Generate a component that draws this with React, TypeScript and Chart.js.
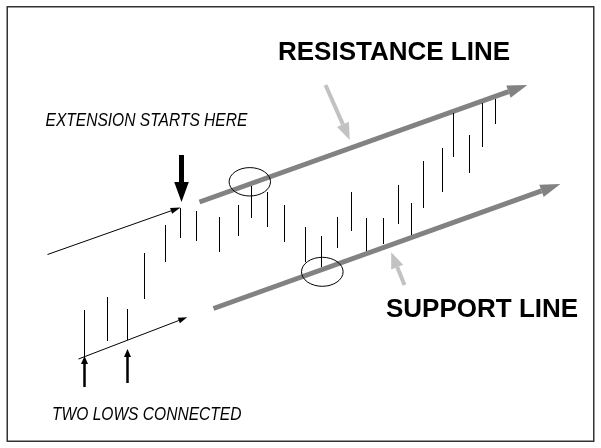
import React, { useEffect, useRef } from "react";
import { Chart, registerables } from "chart.js";

Chart.register(...registerables);

// Price bars: day position, high and low price
const barDays = [84, 107, 127, 144, 165, 180, 196, 219, 238, 251, 267, 284, 305, 321, 337, 351, 366, 383, 398, 411, 423, 442, 453, 469, 482, 495];
const barHighs = [138, 151, 139, 195, 223, 240, 237, 231, 243, 262, 256, 243, 221, 212, 231, 256, 230, 230, 263, 245, 287, 300, 335, 313, 345, 349];
const barLows = [91, 107, 108, 149, 186, 210, 207, 196, 212, 230, 221, 206, 186, 181, 200, 217, 197, 204, 224, 213, 240, 256, 291, 275, 301, 324];

// Trend lines (start point, end of shaft) in day/price units
const resistanceLine = [{ x: 199, y: 246 }, { x: 508, y: 356.3 }];
const supportLine = [{ x: 213, y: 139.5 }, { x: 541, y: 257.2 }];
const extensionLine = [{ x: 47, y: 193.5 }, { x: 170.6, y: 237.2 }];
const lowsLine = [{ x: 78, y: 89 }, { x: 178.3, y: 127.5 }];

// Pointer arrows
const downPointer = [{ x: 181, y: 293 }, { x: 181, y: 266 }];
const upPointer1 = [{ x: 84, y: 61 }, { x: 84, y: 84 }];
const upPointer2 = [{ x: 127, y: 65 }, { x: 127, y: 91 }];
const resistancePointer = [{ x: 325, y: 363 }, { x: 342.4, y: 323.6 }];
const supportPointer = [{ x: 404, y: 163 }, { x: 396.7, y: 180.9 }];

// Circled touch points: center x, center y, radius x, radius y
const ellipses = [
  [249.3, 266.2, 20.7, 14.2],
  [321.8, 176.2, 20.8, 14.5],
];

// Labels: text, x, y, style
const labels = [
  { text: "RESISTANCE LINE", x: 277.5, y: 388.5, bold: true },
  { text: "SUPPORT LINE", x: 385.5, y: 131.3, bold: true },
  { text: "EXTENSION STARTS HERE", x: 45, y: 322, bold: false },
  { text: "TWO LOWS CONNECTED", x: 51.5, y: 28, bold: false },
];

const DARK = "#828282";
const LIGHT = "#c2c2c2";

const arrowPlugin = {
  id: "arrowHeads",
  afterDatasetsDraw(chart: any) {
    const ctx = chart.ctx;
    chart.data.datasets.forEach((ds: any, i: number) => {
      if (!ds.arrow) return;
      const pts = chart.getDatasetMeta(i).data;
      if (pts.length < 2) return;
      const a = pts[pts.length - 2];
      const b = pts[pts.length - 1];
      const dx = b.x - a.x;
      const dy = b.y - a.y;
      const len = Math.hypot(dx, dy) || 1;
      const ux = dx / len;
      const uy = dy / len;
      const { length, halfWidth } = ds.arrow;
      const tx = b.x + ux * length;
      const ty = b.y + uy * length;
      ctx.save();
      ctx.fillStyle = ds.borderColor;
      ctx.beginPath();
      ctx.moveTo(tx, ty);
      ctx.lineTo(b.x - uy * halfWidth, b.y + ux * halfWidth);
      ctx.lineTo(b.x + uy * halfWidth, b.y - ux * halfWidth);
      ctx.closePath();
      ctx.fill();
      ctx.restore();
    });
  },
};

const decorPlugin = {
  id: "decor",
  beforeDraw(chart: any) {
    const ctx = chart.ctx;
    ctx.save();
    ctx.fillStyle = "#ffffff";
    ctx.fillRect(0, 0, chart.width, chart.height);
    ctx.restore();
  },
  afterDraw(chart: any) {
    const ctx = chart.ctx;
    const xs = chart.scales.x;
    const ys = chart.scales.y;
    ctx.save();
    // frame
    ctx.strokeStyle = "#333333";
    ctx.lineWidth = 1.5;
    ctx.strokeRect(7.25, 6.75, 586.5, 434.5);
    // ellipses
    ctx.strokeStyle = "#000000";
    ctx.lineWidth = 1;
    ellipses.forEach(([cx, cy, rx, ry]) => {
      const px = xs.getPixelForValue(cx);
      const py = ys.getPixelForValue(cy);
      const prx = Math.abs(xs.getPixelForValue(cx + rx) - px);
      const pry = Math.abs(ys.getPixelForValue(cy + ry) - py);
      ctx.beginPath();
      ctx.ellipse(px, py, prx, pry, 0, 0, Math.PI * 2);
      ctx.stroke();
    });
    // labels
    ctx.fillStyle = "#000000";
    ctx.textBaseline = "alphabetic";
    ctx.textAlign = "left";
    labels.forEach((l) => {
      const px = xs.getPixelForValue(l.x);
      const py = ys.getPixelForValue(l.y);
      ctx.save();
      ctx.translate(px, py);
      if (l.bold) {
        ctx.font = "bold 26px 'Liberation Sans', Arial, sans-serif";
      } else {
        ctx.font = "italic 18px 'Liberation Sans', Arial, sans-serif";
        ctx.scale(0.865, 1);
      }
      ctx.fillText(l.text, 0, 0);
      ctx.restore();
    });
    ctx.restore();
  },
};

function lineDs(data: any[], color: string, width: number, arrow: any, order: number) {
  return {
    type: "line",
    data,
    borderColor: color,
    borderWidth: width,
    borderCapStyle: "butt",
    pointRadius: 0,
    pointHoverRadius: 0,
    tension: 0,
    fill: false,
    arrow,
    order,
  };
}

export default function App() {
  const ref = useRef<HTMLCanvasElement | null>(null);
  useEffect(() => {
    document.body.style.margin = "0";
    document.body.style.overflow = "hidden";
    if (!ref.current) return;
    const bars = barDays.map((d, i) => ({ x: d, y: [barLows[i], barHighs[i]] }));
    const chart = new Chart(ref.current, {
      type: "bar",
      data: {
        datasets: [
          {
            type: "bar",
            data: bars,
            backgroundColor: "#000000",
            borderWidth: 0,
            barThickness: 1,
            inflateAmount: 0,
            order: 0,
          } as any,
          lineDs(resistanceLine, DARK, 5, { length: 20, halfWidth: 6.5 }, 2),
          lineDs(supportLine, DARK, 5, { length: 20, halfWidth: 6.5 }, 2),
          lineDs(extensionLine, "#000000", 1, { length: 10, halfWidth: 3 }, 1),
          lineDs(lowsLine, "#000000", 1, { length: 9, halfWidth: 3 }, 1),
          lineDs(downPointer, "#000000", 5, { length: 20, halfWidth: 7.3 }, 1),
          lineDs(upPointer1, "#000000", 2.5, { length: 8, halfWidth: 3.5 }, 1),
          lineDs(upPointer2, "#000000", 2.5, { length: 8, halfWidth: 3.5 }, 1),
          lineDs(resistancePointer, LIGHT, 4, { length: 17, halfWidth: 6.5 }, 1),
          lineDs(supportPointer, LIGHT, 4, { length: 16, halfWidth: 6.5 }, 1),
        ] as any,
      },
      options: {
        animation: false,
        responsive: false,
        maintainAspectRatio: false,
        layout: { padding: 0 },
        plugins: {
          legend: { display: false },
          tooltip: { enabled: false },
          title: { display: false },
        },
        events: [],
        scales: {
          x: { type: "linear", min: -0.5, max: 600.5, offset: false, display: false },
          y: { type: "linear", min: 0, max: 448, offset: false, display: false },
        },
      } as any,
      plugins: [arrowPlugin, decorPlugin],
    });
    return () => chart.destroy();
  }, []);
  return (
    <div style={{ width: 601, height: 448 }}>
      <canvas ref={ref} width={601} height={448} style={{ display: "block" }} />
    </div>
  );
}
